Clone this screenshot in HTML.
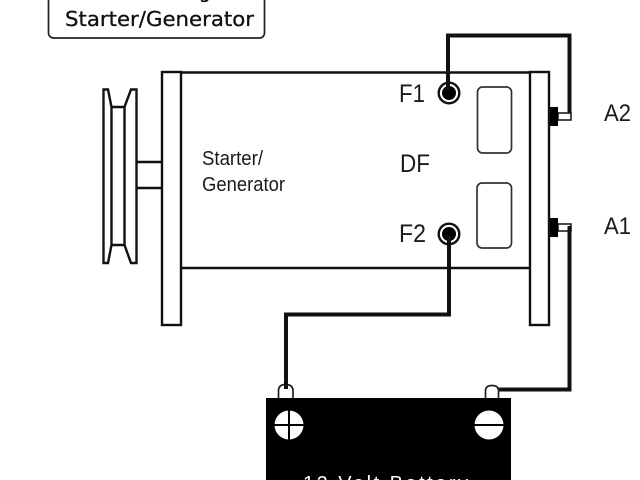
<!DOCTYPE html>
<html>
<head>
<meta charset="utf-8">
<style>
html,body{margin:0;padding:0;background:#fff;width:640px;height:480px;overflow:hidden}
svg{display:block}
text{font-family:"Liberation Sans",sans-serif;fill:#1a1a1a}
</style>
</head>
<body>
<svg width="640" height="480" viewBox="0 0 640 480" xmlns="http://www.w3.org/2000/svg">
<rect width="640" height="480" fill="#fff"/>
<!-- title box -->
<rect x="48.500" y="-20" width="216" height="58" rx="5" fill="#fff" stroke="#222" stroke-width="1.700"/>
<text x="65" y="26" font-size="20.500" textLength="189" lengthAdjust="spacingAndGlyphs" style="font-family:'DejaVu Sans',sans-serif;fill:#111;stroke:#111;stroke-width:.3">Starter/Generator</text>
<text x="150" y="-2" font-size="19" style="font-family:'DejaVu Sans',sans-serif;fill:#111;stroke:#111;stroke-width:.3">Wiring</text>
<!-- pulley -->
<g fill="none" stroke="#111" stroke-width="2.400">
<path d="M103.500 89.500H108L111.500 107V245L108 263H103.500Z"/>
<path d="M136.500 89.500H131L124.500 107V245L131 263H136.500Z"/>
<path d="M111.500 107H124.500M111.500 245H124.500"/>
<path d="M137 162H162M137 188H162"/>
<rect x="162" y="72" width="19" height="253"/>
<rect x="530" y="72" width="19" height="253"/>
<path d="M181 72.500H530M181 268H530"/>
</g>
<!-- internal pole shapes -->
<rect x="477.500" y="87" width="34" height="66" rx="5" fill="#fff" stroke="#333" stroke-width="1.700"/>
<rect x="477" y="183" width="34.500" height="65" rx="5" fill="#fff" stroke="#333" stroke-width="1.700"/>
<!-- F terminals -->
<circle cx="449" cy="93" r="10.300" fill="#fff" stroke="#111" stroke-width="2.400"/>
<circle cx="449" cy="93" r="7" fill="#000"/>
<circle cx="449" cy="234" r="10.300" fill="#fff" stroke="#111" stroke-width="2.400"/>
<circle cx="449" cy="234" r="7" fill="#000"/>
<!-- A terminals -->
<rect x="558" y="113" width="13" height="7" fill="#fff" stroke="#111" stroke-width="1.500"/>
<rect x="558" y="224" width="13" height="7" fill="#fff" stroke="#111" stroke-width="1.500"/>
<rect x="550" y="107" width="8" height="19" fill="#000"/>
<rect x="550" y="218" width="8" height="19" fill="#000"/>
<!-- wires -->
<g fill="none" stroke="#111" stroke-width="4">
<path d="M448 90V35.500H569.500V113"/>
<path d="M449 236V314.500H286V386"/>
<path d="M569.500 226V389.500H497"/>
</g>
<!-- battery -->
<path d="M278.500 398V391Q278.500 384.500 285.500 384.500Q293 384.500 293 391V398" fill="#fff" stroke="#222" stroke-width="1.700"/>
<path d="M485.500 398V391Q485.500 385.500 492 385.500Q498.500 385.500 498.500 391V398" fill="#fff" stroke="#222" stroke-width="1.700"/>
<path d="M286 380V389" stroke="#111" stroke-width="4"/>
<rect x="266" y="398" width="245" height="82" fill="#000"/>
<circle cx="289" cy="425" r="14.500" fill="#fff"/>
<path d="M289 410V440M274 425H304" stroke="#000" stroke-width="2"/>
<circle cx="489" cy="425" r="14.500" fill="#fff"/>
<path d="M474 425H504" stroke="#000" stroke-width="2"/>
<text x="303" y="490" font-size="20" textLength="165" lengthAdjust="spacing" style="fill:#fff">12 Volt Battery</text>
<!-- labels -->
<text x="202" y="165" font-size="20" textLength="61" lengthAdjust="spacingAndGlyphs">Starter/</text>
<text x="202" y="191" font-size="20" textLength="83" lengthAdjust="spacingAndGlyphs">Generator</text>
<text x="399" y="102" font-size="25" textLength="26" lengthAdjust="spacingAndGlyphs">F1</text>
<text x="400" y="172" font-size="25" textLength="30" lengthAdjust="spacingAndGlyphs">DF</text>
<text x="399" y="242" font-size="25" textLength="27" lengthAdjust="spacingAndGlyphs">F2</text>
<text x="604" y="121" font-size="24" textLength="27" lengthAdjust="spacingAndGlyphs">A2</text>
<text x="604" y="234" font-size="24" textLength="27" lengthAdjust="spacingAndGlyphs">A1</text>
</svg>
</body>
</html>
